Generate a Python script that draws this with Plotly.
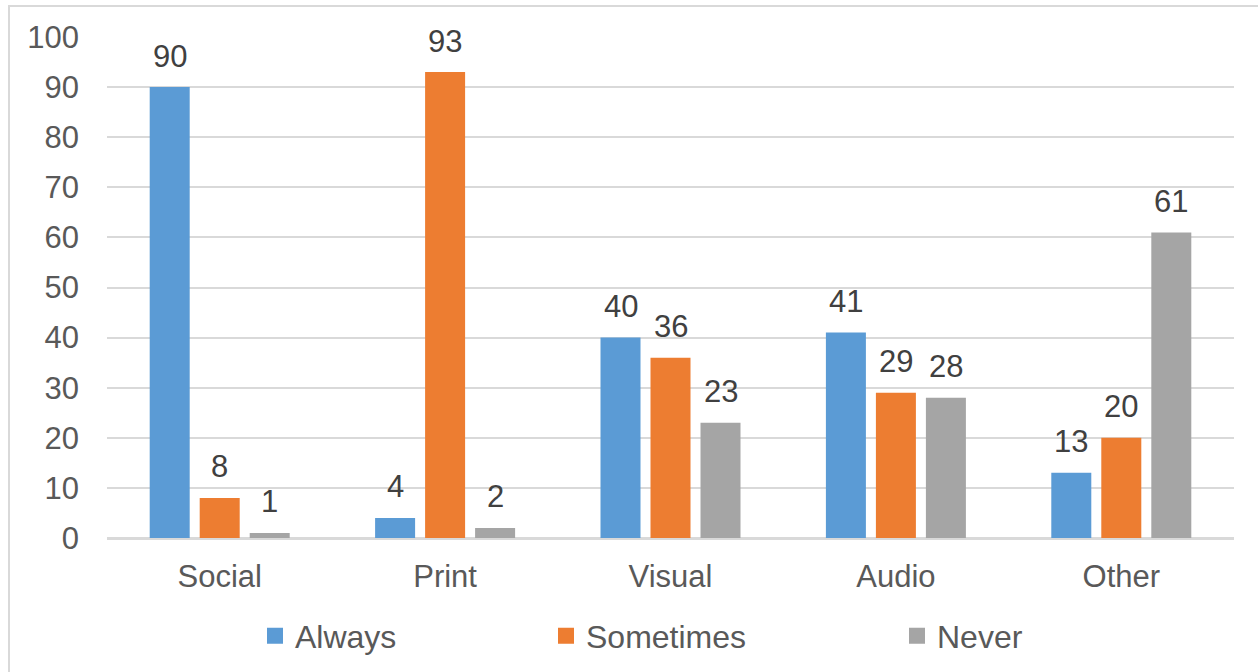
import plotly.graph_objects as go

categories = ["Social", "Print", "Visual", "Audio", "Other"]
always = [90, 4, 40, 41, 13]
sometimes = [8, 93, 36, 29, 20]
never = [1, 2, 23, 28, 61]

series = [
    ("Always", always, "#5B9BD5"),
    ("Sometimes", sometimes, "#ED7D31"),
    ("Never", never, "#A5A5A5"),
]

W, H = 1258, 672
L, R, T, B = 107, 24, 37, 134
PW, PH = W - L - R, H - T - B

FONT = "Liberation Sans, Arial, sans-serif"
TICK_COLOR = "#595959"
LABEL_COLOR = "#404040"
GRID = "#D9D9D9"
FS = 31


def px_x(p):
    return (p - L) / PW


def px_y(p):
    return (H - B - p) / PH


fig = go.Figure()
legend_names = ["legend", "legend2", "legend3"]
for (name, vals, color), lg in zip(series, legend_names):
    fig.add_trace(go.Bar(
        name=name, x=categories, y=vals,
        marker=dict(color=color, line=dict(width=0)),
        showlegend=False,
    ))
    # legend key: a larger square swatch than the default bar symbol
    fig.add_trace(go.Scatter(
        name=name, x=[None], y=[None], mode="markers",
        marker=dict(symbol="square", size=16, color=color, line=dict(width=0)),
        legend=lg, showlegend=True, hoverinfo="skip",
    ))

# value labels above each bar, offset to the bar's slot in the group
offsets = [-50, 0, 50]
annotations = []
for (name, vals, color), dx in zip(series, offsets):
    for cat, v in zip(categories, vals):
        annotations.append(dict(
            x=cat, y=v, xref="x", yref="y", text=str(v), showarrow=False,
            xshift=dx, yshift=31, yanchor="middle",
            font=dict(family=FONT, size=FS, color=LABEL_COLOR),
        ))

legend_style = dict(
    orientation="h", yanchor="middle", xanchor="left",
    font=dict(family=FONT, size=32, color=TICK_COLOR),
    bgcolor="rgba(0,0,0,0)", borderwidth=0,
)
legend_left = [255, 546, 897]

fig.update_layout(
    width=W, height=H,
    margin=dict(l=L, r=R, t=T, b=B, autoexpand=False),
    paper_bgcolor="white", plot_bgcolor="white",
    showlegend=True,
    barmode="group", bargap=0.3345, bargroupgap=0.2,
    font=dict(family=FONT, size=FS, color=TICK_COLOR),
    xaxis=dict(
        showgrid=False, showline=True, linecolor=GRID, linewidth=1.5,
        ticks="", tickfont=dict(family=FONT, size=FS, color=TICK_COLOR),
        ticklabelstandoff=10,
    ),
    yaxis=dict(
        range=[0, 100], dtick=10, showgrid=True, gridcolor=GRID, gridwidth=1.5,
        zeroline=True, zerolinecolor=GRID, zerolinewidth=1.5,
        showline=False, ticks="",
        tickfont=dict(family=FONT, size=FS, color=TICK_COLOR),
        ticklabelstandoff=27,
    ),
    annotations=annotations,
    legend=dict(x=px_x(legend_left[0]), y=px_y(636), **legend_style),
    legend2=dict(x=px_x(legend_left[1]), y=px_y(636), **legend_style),
    legend3=dict(x=px_x(legend_left[2]), y=px_y(636), **legend_style),
    shapes=[dict(
        type="rect", xref="paper", yref="paper", layer="below",
        x0=px_x(9), x1=px_x(1266), y0=px_y(6), y1=px_y(690),
        line=dict(color=GRID, width=2), fillcolor="rgba(0,0,0,0)",
    )],
)

fig.write_html("out.html")
